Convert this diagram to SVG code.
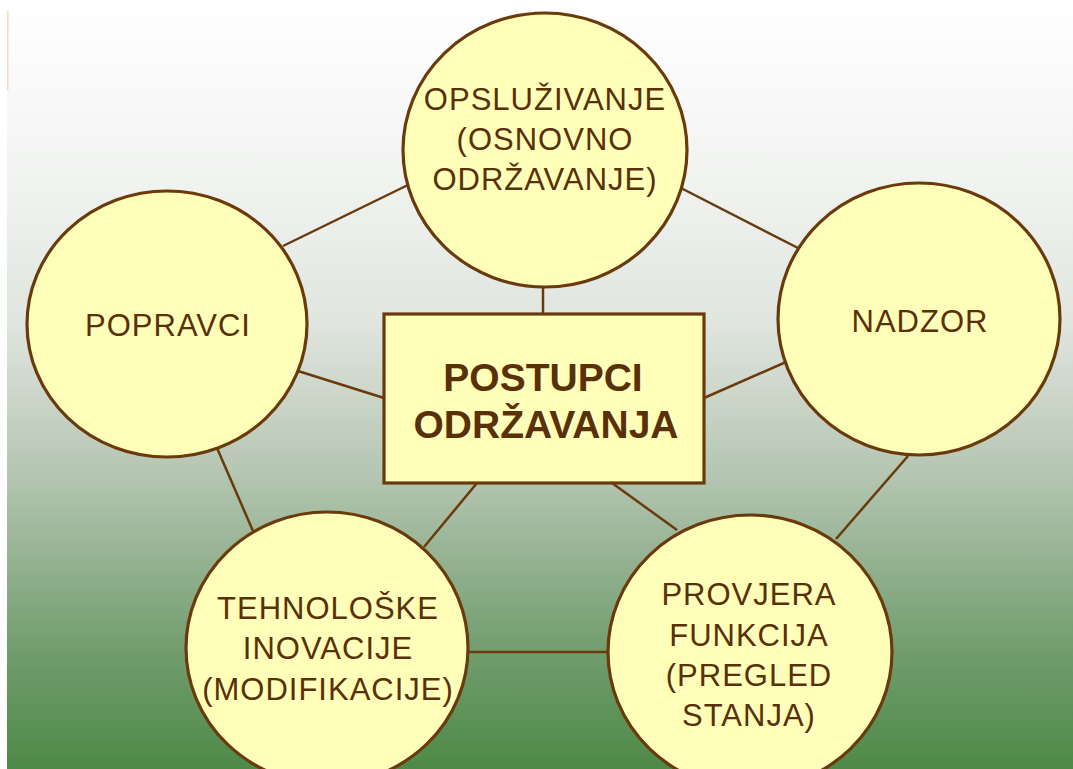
<svg xmlns="http://www.w3.org/2000/svg" width="1073" height="769" viewBox="0 0 1073 769">
<defs>
<linearGradient id="bg" x1="0" y1="0" x2="0" y2="1">
<stop offset="0" stop-color="#ffffff"/>
<stop offset="0.22" stop-color="#f2f4f2"/>
<stop offset="0.42" stop-color="#e0e5df"/>
<stop offset="0.62" stop-color="#b4c5b1"/>
<stop offset="0.84" stop-color="#739e6f"/>
<stop offset="1" stop-color="#4e8947"/>
</linearGradient>
<style>
.n{fill:#ffffb9;stroke:#6b3a0c;stroke-width:3.2}
.t{font-family:"Liberation Sans",Arial,sans-serif;font-size:31px;fill:#5a3008;text-anchor:middle;letter-spacing:1px}
.b{font-family:"Liberation Sans",Arial,sans-serif;font-size:39px;font-weight:bold;fill:#5a3008;text-anchor:middle}
#connectors line{stroke:#6b3a0c;stroke-width:2.5}
</style>
</defs>
<rect x="0" y="0" width="1073" height="769" fill="#ffffff"/>
<rect x="7" y="0" width="1066" height="769" fill="url(#bg)"/>
<rect x="7" y="11" width="1.5" height="79" fill="#f2dcb0"/>
<g id="connectors">
<line x1="283" y1="246" x2="412" y2="183"/>
<line x1="677" y1="186" x2="798" y2="248"/>
<line x1="543" y1="284" x2="543" y2="314"/>
<line x1="298" y1="371" x2="384" y2="398"/>
<line x1="704" y1="398" x2="786" y2="362"/>
<line x1="217" y1="448" x2="253" y2="531"/>
<line x1="477" y1="483" x2="424" y2="547"/>
<line x1="612" y1="483" x2="677" y2="530"/>
<line x1="908" y1="456" x2="836" y2="539"/>
<line x1="466" y1="652" x2="610" y2="652"/>
</g>
<g id="opsluzivanje">
<ellipse class="n" cx="545" cy="150" rx="142" ry="137"/>
<text class="t" x="545" y="110">OPSLUŽIVANJE</text>
<text class="t" x="545" y="150">(OSNOVNO</text>
<text class="t" x="545" y="190">ODRŽAVANJE)</text>
</g>
<g id="popravci">
<ellipse class="n" cx="167" cy="324" rx="140" ry="133"/>
<text class="t" x="168" y="336">POPRAVCI</text>
</g>
<g id="nadzor">
<ellipse class="n" cx="919" cy="319" rx="141" ry="136"/>
<text class="t" x="920" y="332">NADZOR</text>
</g>
<g id="tehnoloske">
<ellipse class="n" cx="327" cy="648" rx="141" ry="136"/>
<text class="t" x="328" y="619">TEHNOLOŠKE</text>
<text class="t" x="328" y="659">INOVACIJE</text>
<text class="t" x="328" y="700">(MODIFIKACIJE)</text>
</g>
<g id="provjera">
<ellipse class="n" cx="750" cy="652" rx="142" ry="137"/>
<text class="t" x="749" y="605">PROVJERA</text>
<text class="t" x="749" y="646">FUNKCIJA</text>
<text class="t" x="749" y="686">(PREGLED</text>
<text class="t" x="749" y="726">STANJA)</text>
</g>
<g id="postupci">
<rect class="n" x="384" y="314" width="320" height="169"/>
<text class="b" x="543" y="391">POSTUPCI</text>
<text class="b" x="546" y="438">ODRŽAVANJA</text>
</g>
</svg>
